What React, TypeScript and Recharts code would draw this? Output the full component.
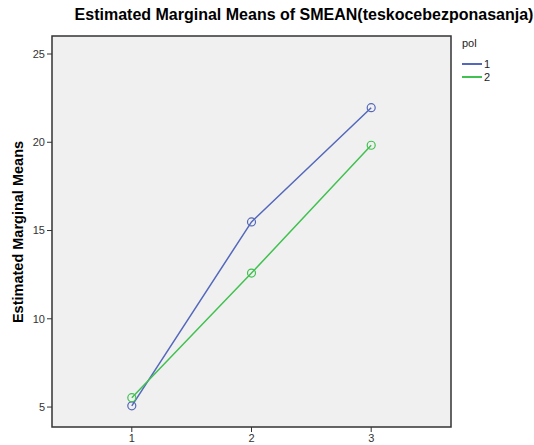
import { LineChart, Line, XAxis, YAxis, ReferenceArea } from "recharts"

// pol groups across the three levels
const levels = [1, 2, 3]
const pol1 = [5.07, 15.49, 21.96]
const pol2 = [5.53, 12.59, 19.83]
const yTicks = [5, 10, 15, 20, 25]

const data = levels.map((lvl, i) => ({ x: lvl, p1: pol1[i], p2: pol2[i] }))

const font = "'Liberation Sans', Arial, sans-serif"
const blue = "#5468bb"
const green = "#41c150"
const xDomain: [number, number] = [1 / 3, 11 / 3]
const yDomain: [number, number] = [3.87, 26.02]

export default function App() {
  return (
    <div style={{ position: "absolute", left: 0, top: 0, width: 534, height: 445, background: "#fff", fontFamily: font }}>
      <div
        style={{
          position: "absolute",
          left: 70,
          width: 468,
          top: 6,
          textAlign: "center",
          fontSize: 16,
          fontWeight: "bold",
          color: "#000",
          whiteSpace: "nowrap",
        }}
      >
        Estimated Marginal Means of SMEAN(teskocebezponasanja)
      </div>
      <div
        style={{
          position: "absolute",
          left: 17.5,
          top: 232,
          transform: "translate(-50%, -50%) rotate(-90deg)",
          fontSize: 14.5,
          fontWeight: "bold",
          whiteSpace: "nowrap",
        }}
      >
        Estimated Marginal Means
      </div>
      <div style={{ position: "absolute", left: 462, top: 37, fontSize: 11, color: "#222" }}>pol</div>
      {[
        { name: "1", color: blue, y: 64 },
        { name: "2", color: green, y: 77 },
      ].map((it) => (
        <div key={it.name} style={{ position: "absolute", left: 462, top: it.y - 7, height: 14, display: "flex", alignItems: "center", fontSize: 11, color: "#222" }}>
          <div style={{ width: 20, height: 2, background: it.color, marginRight: 2 }} />
          {it.name}
        </div>
      ))}
      <LineChart width={534} height={445} data={data} margin={{ top: 36, right: 83, bottom: 0, left: 0 }}>
        <ReferenceArea
          x1={xDomain[0]}
          x2={xDomain[1]}
          y1={yDomain[0]}
          y2={yDomain[1]}
          fill="#f0f0f0"
          fillOpacity={1}
          stroke="#333"
          strokeWidth={1.5}
        />
        <XAxis
          dataKey="x"
          type="number"
          domain={xDomain}
          allowDataOverflow
          ticks={levels}
          height={18}
          tickSize={5}
          axisLine={false}
          tickLine={{ stroke: "#333" }}
          tick={{ fontSize: 11, fill: "#333", fontFamily: font }}
        />
        <YAxis
          type="number"
          domain={yDomain}
          allowDataOverflow
          ticks={yTicks}
          width={52}
          tickSize={5}
          axisLine={false}
          tickLine={{ stroke: "#333" }}
          tick={{ fontSize: 11, fill: "#333", fontFamily: font }}
        />
        <Line
          dataKey="p1"
          stroke={blue}
          strokeWidth={1.5}
          dot={{ r: 4, stroke: blue, fill: "none", strokeWidth: 1.2 }}
          isAnimationActive={false}
        />
        <Line
          dataKey="p2"
          stroke={green}
          strokeWidth={1.5}
          dot={{ r: 4, stroke: green, fill: "none", strokeWidth: 1.2 }}
          isAnimationActive={false}
        />
      </LineChart>
    </div>
  )
}
